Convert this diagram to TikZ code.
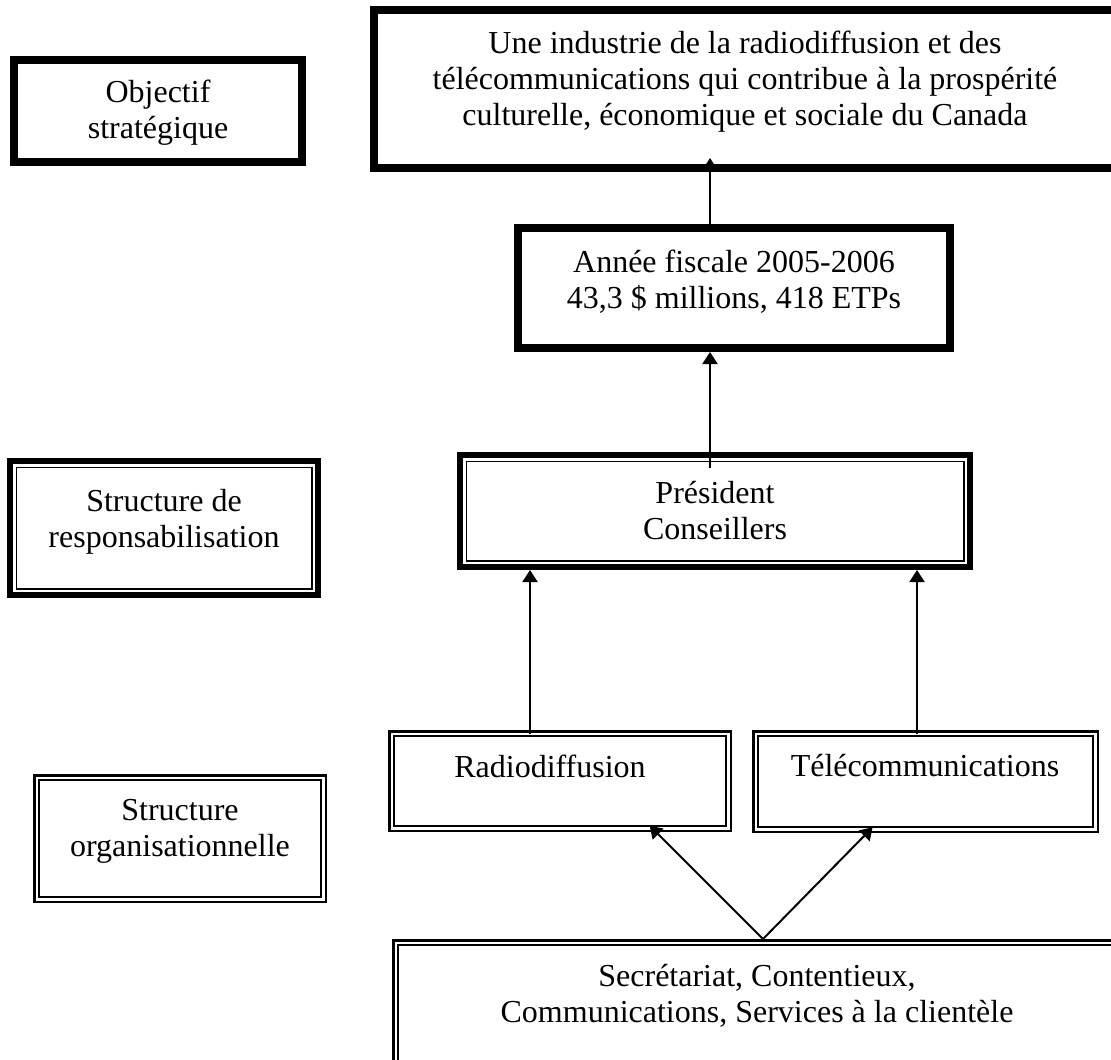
\documentclass[tikz,border=0pt]{standalone}
\usepackage{fontspec}
\setmainfont{Liberation Serif}
\usetikzlibrary{fit,arrows.meta,calc}
\newcommand{\thickbdr}[1]{\draw[line width=4pt] ([shift={(2pt,2pt)}]#1.south west) rectangle ([shift={(-2pt,-2pt)}]#1.north east);}
\newcommand{\thickthinbdr}[1]{%
  \draw[line width=3.2pt] ([shift={(1.6pt,1.6pt)}]#1.south west) rectangle ([shift={(-1.6pt,-1.6pt)}]#1.north east);
  \draw[line width=0.9pt] ([shift={(4.7pt,4.7pt)}]#1.south west) rectangle ([shift={(-4.7pt,-4.7pt)}]#1.north east);}
\newcommand{\dblbdr}[1]{%
  \draw[line width=1.25pt] ([shift={(0.625pt,0.625pt)}]#1.south west) rectangle ([shift={(-0.625pt,-0.625pt)}]#1.north east);
  \draw[line width=1.1pt] ([shift={(2.95pt,2.95pt)}]#1.south west) rectangle ([shift={(-2.95pt,-2.95pt)}]#1.north east);}
\begin{document}
\begin{tikzpicture}[x=0.5pt,y=-0.5pt,
  boxarea/.style={inner sep=0pt, outer sep=0pt, draw=none},
  txt/.style={align=center, inner sep=0pt, font=\fontsize{16pt}{18pt}\selectfont},
  conn/.style={line width=1pt, -{Triangle[length=6pt,width=7.5pt]}}]
\useasboundingbox (0,0) rectangle (1111,1059);
\clip (0,0) rectangle (1111,1059);
\fill[white] (0,0) rectangle (1111,1059);
% box areas
\node[boxarea, fit={(10,56) (306,166)}] (obj) {};
\node[boxarea, fit={(370,6) (1120,172)}] (top) {};
\node[boxarea, fit={(514,224) (954,352)}] (anne) {};
\node[boxarea, fit={(457,452) (973,570)}] (pres) {};
\node[boxarea, fit={(7,458) (321,598)}] (resp) {};
\node[boxarea, fit={(33,774) (327,903)}] (org) {};
\node[boxarea, fit={(388,730) (732,832)}] (radio) {};
\node[boxarea, fit={(752,730) (1099,833)}] (tele) {};
\node[boxarea, fit={(392,939) (1130,1075)}] (bot) {};
% x guides
\coordinate (xa) at (710,0);
\coordinate (xr) at (530,0);
\coordinate (xt) at (917,0);
\coordinate (xb) at (763,0);
\coordinate (xrt) at (656,0);
\coordinate (xtt) at (867,0);
% connectors
\draw[conn, shorten >=-7pt] (anne.north -| xa) -- (top.south -| xa);
\draw[conn, shorten <=-8pt] (pres.north -| xa) -- (anne.south -| xa);
\draw[conn, shorten <=-2pt] (radio.north -| xr) -- (pres.south -| xr);
\draw[conn, shorten <=-2pt] (tele.north -| xt) -- (pres.south -| xt);
\draw[conn, shorten >=-4.5pt] (bot.north -| xb) -- (radio.south -| xrt);
\draw[conn, shorten >=-4pt] (bot.north -| xb) -- (tele.south -| xtt);
% borders
\thickbdr{obj}
\thickbdr{top}
\thickbdr{anne}
\thickthinbdr{pres}
\thickthinbdr{resp}
\dblbdr{org}
\dblbdr{radio}
\dblbdr{tele}
\dblbdr{bot}
% texts
\node[txt] (objt) at (158,113) {Objectif\\stratégique};
\node[txt] (topt) at (745,82) {Une industrie de la radiodiffusion et des\\télécommunications qui contribue à la prospérité\\culturelle, économique et sociale du Canada};
\node[txt] (annet) at (734,282) {Année fiscale 2005-2006\\43,3 \$ millions, 418 ETPs};
\node[txt] (prest) at (715,511) {Président\\Conseillers};
\node[txt] (respt) at (164,522) {Structure de\\responsabilisation};
\node[txt] (orgt) at (180,831) {Structure\\organisationnelle};
\node[txt] (radiot) at (550,766) {Radiodiffusion};
\node[txt] (telet) at (925,766) {Télécommunications};
\node[txt] (bott) at (757,996) {Secrétariat, Contentieux,\\Communications, Services à la clientèle};
\end{tikzpicture}
\end{document}
